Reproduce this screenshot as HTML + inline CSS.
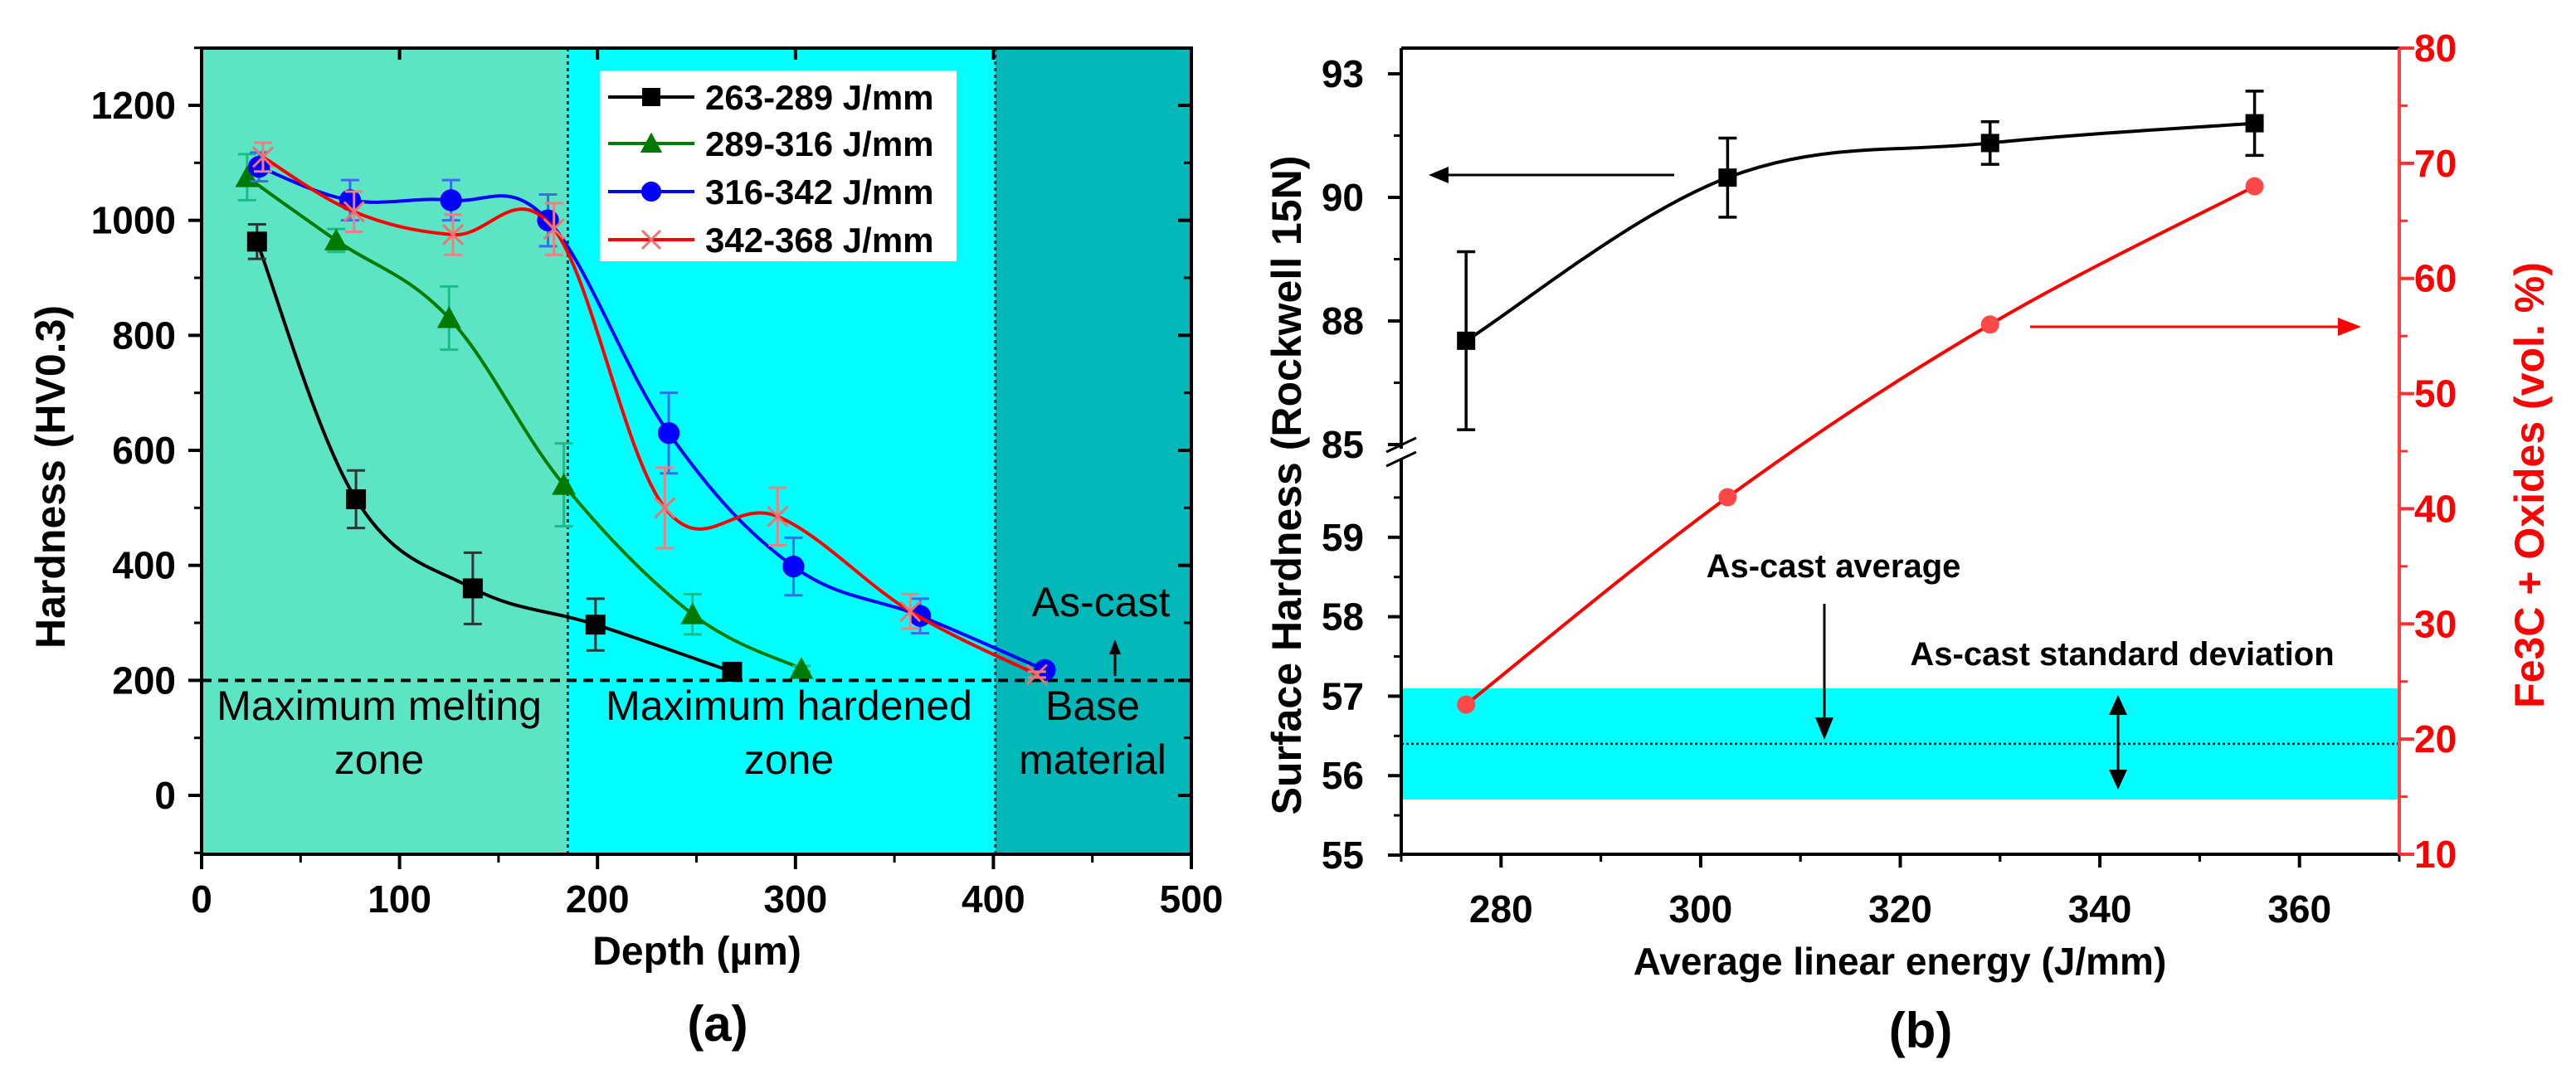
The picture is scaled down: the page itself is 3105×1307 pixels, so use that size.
<!DOCTYPE html>
<html><head><meta charset="utf-8"><style>
html,body{margin:0;padding:0;background:#fff;}
svg{display:block;font-family:"Liberation Sans",Arial,sans-serif;}
</style></head><body>
<svg id="fig" width="3105" height="1307" viewBox="0 0 3105 1307" xmlns="http://www.w3.org/2000/svg">
<g id="a"></g>
<g id="b"></g>
</svg>
<script>
// ---------- Chart (a) data ----------
const aXTicks = [0,100,200,300,400,500];
const aYTicks = [0,200,400,600,800,1000,1200];
const aZoneBounds = [0,185,401,500];
const aSeriesNames = ["263-289 J/mm","289-316 J/mm","316-342 J/mm","342-368 J/mm"];
const aBlackX = [28,78,137,199,268];
const aBlackY = [963,515,360,297,215];
const aBlackE = [30,50,62,45,8];
const aGreenX = [23,68,125,183,248,303];
const aGreenY = [1075,965,830,540,315,220];
const aGreenE = [40,20,55,72,35,5];
const aBlueX = [29,75,126,175,236,299,363,426];
const aBlueY = [1093,1035,1035,1000,630,398,312,218];
const aBlueE = [25,35,35,45,70,50,30,5];
const aRedX = [31,77,127,178,234,291,358,422];
const aRedY = [1110,1015,975,985,500,485,320,210];
const aRedE = [25,35,35,45,70,50,30,5];
const aAsCast = 200;

// ---------- Chart (b) data ----------
const bXTicks = [280,300,320,340,360];
const bUpperTicks = [85,87.5,90,92.5];
const bUpperLabels = ["85","88","90","93"];
const bLowerTicks = [55,56,57,58,59];
const bRightTicks = [10,20,30,40,50,60,70,80];
const bEnergy = [276.5,302.7,329,355.5];
const bHardness = [87.1,90.4,91.1,91.5];
const bHardErr = [1.8,0.8,0.43,0.65];
const bPhase = [23,41,56,68];
const bAsCastAvg = 56.4;
const bAsCastLo = 55.7;
const bAsCastHi = 57.1;

const NS="http://www.w3.org/2000/svg";
function mk(parent,tag,attrs,text){const e=document.createElementNS(NS,tag);for(const k in attrs)e.setAttribute(k,attrs[k]);if(text!==undefined)e.textContent=text;parent.appendChild(e);return e;}
function spline(pts){let d=`M${pts[0][0]},${pts[0][1]}`;for(let i=0;i<pts.length-1;i++){const p0=pts[i-1]||pts[i],p1=pts[i],p2=pts[i+1],p3=pts[i+2]||p2;const t=0.18;const c1=[p1[0]+(p2[0]-p0[0])*t,p1[1]+(p2[1]-p0[1])*t];const c2=[p2[0]-(p3[0]-p1[0])*t,p2[1]-(p3[1]-p1[1])*t];d+=` C${c1[0]},${c1[1]} ${c2[0]},${c2[1]} ${p2[0]},${p2[1]}`;}return d;}

// ===== Chart A =====
const A=document.getElementById('a');
const aL=243,aR=1436,aT=58,aB=1030;
const ax=v=>aL+(v-0)*(aR-aL)/500;
const ay=v=>959-(v)*(959-127)/1200;
const zoneColors=["#5ce5c5","#00ffff","#00b8b8"];
for(let i=0;i<3;i++){
  const r=mk(A,'rect',{x:ax(aZoneBounds[i]),y:aT,width:ax(aZoneBounds[i+1])-ax(aZoneBounds[i]),height:aB-aT,fill:zoneColors[i]});
  
  
}
[aZoneBounds[1],aZoneBounds[2]].forEach(b=>{mk(A,'line',{x1:ax(b),x2:ax(b),y1:aT,y2:aB,stroke:'#333','stroke-width':3,'stroke-dasharray':'4,4'});});
mk(A,'line',{x1:aL,x2:aR,y1:ay(aAsCast),y2:ay(aAsCast),stroke:'#000','stroke-width':4,'stroke-dasharray':'12,8',});
mk(A,'rect',{x:aL,y:aT,width:aR-aL,height:aB-aT,fill:'none',stroke:'#000','stroke-width':4,});
aXTicks.forEach((t,i)=>{
  mk(A,'line',{x1:ax(t),x2:ax(t),y1:aB,y2:aB+18,stroke:'#000','stroke-width':4});
  mk(A,'line',{x1:ax(t),x2:ax(t),y1:aT,y2:aT+14,stroke:'#000','stroke-width':4});
  if(i<aXTicks.length-1){const m=t+50;mk(A,'line',{x1:ax(m),x2:ax(m),y1:aB,y2:aB+10,stroke:'#000','stroke-width':3});}
  const tx=mk(A,'text',{x:ax(t),y:1100,'font-size':46,'font-weight':'bold','text-anchor':'middle'},String(t));
  
  
});
aYTicks.forEach((t,i)=>{
  mk(A,'line',{x1:aL-16,x2:aL,y1:ay(t),y2:ay(t),stroke:'#000','stroke-width':4});
  mk(A,'line',{x1:aR-16,x2:aR,y1:ay(t),y2:ay(t),stroke:'#000','stroke-width':4});
  mk(A,'line',{x1:aL-9,x2:aL,y1:ay(t+100),y2:ay(t+100),stroke:'#000','stroke-width':3});
  mk(A,'line',{x1:aR-9,x2:aR,y1:ay(t+100),y2:ay(t+100),stroke:'#000','stroke-width':3});
  if(t===0){mk(A,'line',{x1:aL-9,x2:aL,y1:ay(-100),y2:ay(-100),stroke:'#000','stroke-width':3});}
  const tx=mk(A,'text',{x:212,y:ay(t)+16,'font-size':46,'font-weight':'bold','text-anchor':'end'},String(t));
  
  
});
mk(A,'text',{x:-575,y:78,transform:'rotate(-90)','font-size':50,'font-weight':'bold','text-anchor':'middle',},'Hardness (HV0.3)');
mk(A,'text',{x:840,y:1163,'font-size':48,'font-weight':'bold','text-anchor':'middle',},'Depth (µm)');
mk(A,'text',{x:865,y:1255,'font-size':60,'font-weight':'bold','text-anchor':'middle',},'(a)');
[[457,868,'Maximum melting'],[457,933,'zone'],[951,868,'Maximum hardened'],[951,933,'zone'],[1317,868,'Base'],[1317,933,'material']].forEach(z=>{
  mk(A,'text',{x:z[0],y:z[1],'font-size':50,'text-anchor':'middle',},z[2]);
});
mk(A,'text',{x:1327,y:743,'font-size':50,'text-anchor':'middle',},'As-cast');
mk(A,'line',{x1:1344,x2:1344,y1:815,y2:785,stroke:'#000','stroke-width':3});
mk(A,'path',{d:'M1337,789 L1344,771 L1351,789 Z',fill:'#000'});

const aSeries=[
  {x:aBlackX,y:aBlackY,e:aBlackE,c:'#000',ec:'#333',m:'square'},
  {x:aGreenX,y:aGreenY,e:aGreenE,c:'#007a00',ec:'#1dbb8a',m:'tri'},
  {x:aBlueX,y:aBlueY,e:aBlueE,c:'#0000ff',ec:'#3a6cf0',m:'circle'},
  {x:aRedX,y:aRedY,e:aRedE,c:'#ff0000',ec:'#f08080',m:'x'}];
function marker(g,type,cx,cy,c,s){
  if(type==='square')return mk(g,'rect',{x:cx-s,y:cy-s,width:2*s,height:2*s,fill:c});
  if(type==='tri')return mk(g,'path',{d:`M${cx},${cy-s*1.2} L${cx+s*1.2},${cy+s} L${cx-s*1.2},${cy+s} Z`,fill:c});
  if(type==='circle')return mk(g,'circle',{cx:cx,cy:cy,r:s*1.1,fill:c});
  return mk(g,'path',{d:`M${cx-s},${cy-s} L${cx+s},${cy+s} M${cx-s},${cy+s} L${cx+s},${cy-s}`,stroke:'#f07070','stroke-width':3,fill:'none'});
}
aSeries.forEach((s,si)=>{
  const g=mk(A,'g',{});
  
  
  const pts=s.x.map((v,i)=>[ax(v),ay(s.y[i])]);
  mk(g,'path',{d:spline(pts),fill:'none',stroke:s.c,'stroke-width':4});
  s.x.forEach((v,i)=>{
    const X=ax(v),y1=ay(s.y[i]+s.e[i]),y2=ay(s.y[i]-s.e[i]);
    mk(g,'path',{d:`M${X},${y1} L${X},${y2} M${X-11},${y1} L${X+11},${y1} M${X-11},${y2} L${X+11},${y2}`,stroke:s.ec,'stroke-width':3,fill:'none'});
    const m=marker(g,s.m,X,ay(s.y[i]),s.c,12);
    
    
  });
});
const lg=mk(A,'g',{});
mk(lg,'rect',{x:723,y:85,width:430,height:230,fill:'#fff'});
const legY=[117,173,231,289];
aSeries.forEach((s,i)=>{
  const e=mk(lg,'g',{});
  
  
  mk(e,'line',{x1:733,x2:837,y1:legY[i],y2:legY[i],stroke:s.c,'stroke-width':4});
  marker(e,s.m,785,legY[i],s.c,11);
  mk(e,'text',{x:850,y:legY[i]+15,'font-size':42,'font-weight':'bold'},aSeriesNames[i]);
});

// ===== Chart B =====
const B=document.getElementById('b');
const bL=1689,bR=2892,bT=58,bB=1030;
const bx=v=>bL+(v-270)*(bR-bL)/100;
const byU=v=>536-(v-85)*(536-89)/7.5;
const byL=v=>1031-(v-55)*95.8;
const byR=v=>bB-(v-10)*(bB-bT)/70;
mk(B,'rect',{x:bL,y:byL(bAsCastHi),width:bR-bL,height:byL(bAsCastLo)-byL(bAsCastHi),fill:'#00ffff',});
mk(B,'line',{x1:bL,x2:bR,y1:byL(bAsCastAvg),y2:byL(bAsCastAvg),stroke:'#000','stroke-width':2.5,'stroke-dasharray':'3,3',});
mk(B,'line',{x1:bL,x2:bR,y1:bT,y2:bT,stroke:'#000','stroke-width':4});
mk(B,'line',{x1:bL,x2:bR,y1:bB,y2:bB,stroke:'#000','stroke-width':4});
mk(B,'line',{x1:bL,x2:bL,y1:bT,y2:541,stroke:'#000','stroke-width':4});
mk(B,'line',{x1:bL,x2:bL,y1:553,y2:bB,stroke:'#000','stroke-width':4});
mk(B,'line',{x1:bR,x2:bR,y1:bT,y2:bB,stroke:'#ff4040','stroke-width':4});
mk(B,'path',{d:`M${bL-18},${545} L${bL+18},${528} M${bL-18},${562} L${bL+18},${545}`,stroke:'#000','stroke-width':3,});
bXTicks.forEach(t=>{
  mk(B,'line',{x1:bx(t),x2:bx(t),y1:bB,y2:bB+16,stroke:'#000','stroke-width':4});
  mk(B,'line',{x1:bx(t+10),x2:bx(t+10),y1:bB,y2:bB+9,stroke:'#000','stroke-width':3});
  mk(B,'line',{x1:bx(t-10),x2:bx(t-10),y1:bB,y2:bB+9,stroke:'#000','stroke-width':3});
  const tx=mk(B,'text',{x:bx(t),y:1112,'font-size':46,'font-weight':'bold','text-anchor':'middle'},String(t));
  
  
});
bUpperTicks.forEach((t,i)=>{
  mk(B,'line',{x1:bL-16,x2:bL,y1:byU(t),y2:byU(t),stroke:'#000','stroke-width':4});
  if(i<bUpperTicks.length-1)mk(B,'line',{x1:bL-9,x2:bL,y1:byU(t+1.25),y2:byU(t+1.25),stroke:'#000','stroke-width':3});
  const tx=mk(B,'text',{x:1644,y:byU(t)+16,'font-size':46,'font-weight':'bold','text-anchor':'end'},bUpperLabels[i]);
  
  
});
bLowerTicks.forEach(t=>{
  mk(B,'line',{x1:bL-16,x2:bL,y1:byL(t),y2:byL(t),stroke:'#000','stroke-width':4});
  mk(B,'line',{x1:bL-9,x2:bL,y1:byL(t+0.5),y2:byL(t+0.5),stroke:'#000','stroke-width':3});
  const tx=mk(B,'text',{x:1644,y:byL(t)+16,'font-size':46,'font-weight':'bold','text-anchor':'end'},String(t));
  
  
});
bRightTicks.forEach((t,i)=>{
  mk(B,'line',{x1:bR,x2:bR+18,y1:byR(t),y2:byR(t),stroke:'#ff3030','stroke-width':4});
  if(i<bRightTicks.length-1)mk(B,'line',{x1:bR,x2:bR+10,y1:byR(t+5),y2:byR(t+5),stroke:'#ff3030','stroke-width':3});
  const tx=mk(B,'text',{x:2910,y:byR(t)+16,'font-size':46,'font-weight':'bold',fill:'#ff0000'},String(t));
  
  
});
mk(B,'text',{x:-585,y:1568,transform:'rotate(-90)','font-size':50,'font-weight':'bold','text-anchor':'middle',},'Surface Hardness (Rockwell 15N)');
mk(B,'text',{x:-585,y:3066,transform:'rotate(-90)','font-size':50,'font-weight':'bold','text-anchor':'middle',fill:'#ff0000',},'Fe3C + Oxides (vol. %)');
mk(B,'text',{x:2290,y:1175,'font-size':46,'font-weight':'bold','text-anchor':'middle',},'Average linear energy (J/mm)');
mk(B,'text',{x:2315,y:1263,'font-size':60,'font-weight':'bold','text-anchor':'middle',},'(b)');
const hg=mk(B,'g',{});
mk(hg,'path',{d:spline(bEnergy.map((e,i)=>[bx(e),byU(bHardness[i])])),fill:'none',stroke:'#000','stroke-width':4});
bEnergy.forEach((e,i)=>{
  const X=bx(e),y1=byU(bHardness[i]+bHardErr[i]),y2=byU(bHardness[i]-bHardErr[i]);
  mk(hg,'path',{d:`M${X},${y1} L${X},${y2} M${X-11},${y1} L${X+11},${y1} M${X-11},${y2} L${X+11},${y2}`,stroke:'#000','stroke-width':3.5,fill:'none'});
  const m=mk(hg,'rect',{x:X-11,y:byU(bHardness[i])-11,width:22,height:22,fill:'#000'});
  
  
});
const pg=mk(B,'g',{});
mk(pg,'path',{d:spline(bEnergy.map((e,i)=>[bx(e),byR(bPhase[i])])),fill:'none',stroke:'#ff0000','stroke-width':4});
bEnergy.forEach((e,i)=>{
  const c=mk(pg,'circle',{cx:bx(e),cy:byR(bPhase[i]),r:11,fill:'#ff4848'});
  
  
});
mk(B,'line',{x1:2018,x2:1740,y1:211,y2:211,stroke:'#000','stroke-width':3,});
mk(B,'path',{d:'M1722,211 L1746,201 L1746,221 Z',fill:'#000'});
mk(B,'line',{x1:2447,x2:2820,y1:394,y2:394,stroke:'#ff0000','stroke-width':3,});
mk(B,'path',{d:'M2846,394 L2818,383 L2818,405 Z',fill:'#ff0000'});
mk(B,'text',{x:2210,y:696,'font-size':40,'font-weight':'bold','text-anchor':'middle',},'As-cast average');
mk(B,'line',{x1:2199,x2:2199,y1:728,y2:870,stroke:'#000','stroke-width':3});
mk(B,'path',{d:'M2199,892 L2188,865 L2210,865 Z',fill:'#000'});
mk(B,'text',{x:2558,y:802,'font-size':40,'font-weight':'bold','text-anchor':'middle',},'As-cast standard deviation');
mk(B,'line',{x1:2553,x2:2553,y1:855,y2:935,stroke:'#000','stroke-width':3});
mk(B,'path',{d:'M2553,838 L2542,862 L2564,862 Z M2553,952 L2542,928 L2564,928 Z',fill:'#000',});
</script>
</body></html>
